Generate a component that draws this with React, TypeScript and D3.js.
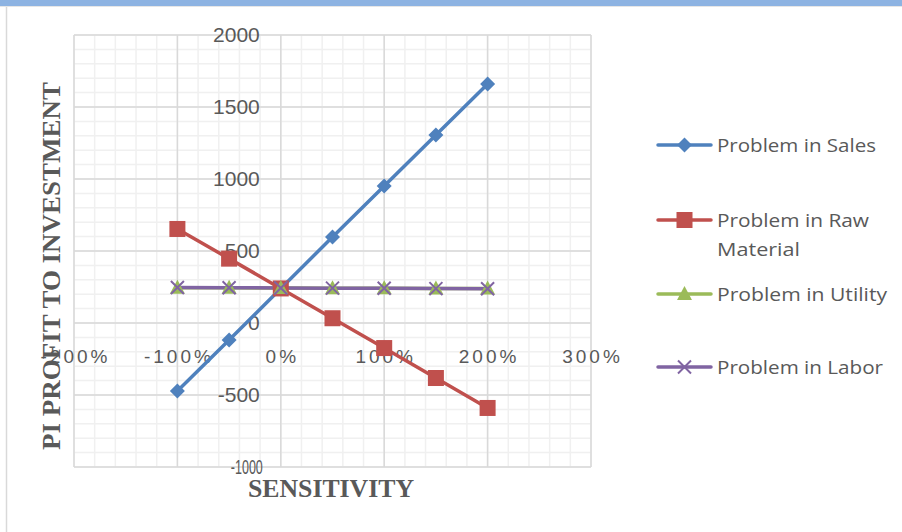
import React, { useEffect, useRef } from "react";
import * as d3 from "d3";

const sensitivity = [-1, -0.5, 0, 0.5, 1, 1.5, 2];
const salesValues = [-472, -118, 240, 597, 951, 1306, 1660];
const rawMaterialValues = [653, 447, 240, 33, -174, -382, -590];
const utilityValues = [245, 244, 243, 242, 241, 240, 239];
const laborValues = [246, 245, 243, 242, 241, 239, 238];
const seriesNames = ["Problem in Sales", "Problem in Raw Material", "Problem in Utility", "Problem in Labor"];
const xTicks = [-2, -1, 0, 1, 2, 3];
const yTicks = [-1000, -500, 0, 500, 1000, 1500, 2000];

const W = 902;
const H = 532;

export default function App() {
  const ref = useRef<SVGSVGElement>(null);

  useEffect(() => {
    const svg = d3.select(ref.current!);
    svg.selectAll("*").remove();

    const x = d3.scaleLinear().domain([-2, 3]).range([74, 591]);
    const y = d3.scaleLinear().domain([-1000, 2000]).range([467, 35]);
    const labelColor = "#595959";

    // frame
    svg.append("rect").attr("x", 0).attr("y", 0).attr("width", W).attr("height", H).attr("fill", "#fff");
    svg.append("rect").attr("x", 0).attr("y", 0).attr("width", W).attr("height", 6).attr("fill", "#8DB3E2");
    svg.append("line").attr("x1", 0).attr("x2", W).attr("y1", 6.5).attr("y2", 6.5).attr("stroke", "#E6E6E6");
    svg.append("line").attr("x1", 6.5).attr("x2", 6.5).attr("y1", 7).attr("y2", H).attr("stroke", "#D9D9D9").attr("stroke-width", 1.5);

    const g = svg.append("g");
    // minor grid
    const xMinor = d3.range(-2, 3.0001, 0.2);
    const yMinor = d3.range(-1000, 2000.1, 100);
    g.selectAll(".xm").data(xMinor).enter().append("line")
      .attr("x1", d => x(d)).attr("x2", d => x(d)).attr("y1", y(2000)).attr("y2", y(-1000))
      .attr("stroke", "#F0F0F0").attr("stroke-width", 1.5);
    g.selectAll(".ym").data(yMinor).enter().append("line")
      .attr("y1", d => y(d)).attr("y2", d => y(d)).attr("x1", x(-2)).attr("x2", x(3))
      .attr("stroke", "#F0F0F0").attr("stroke-width", 1.5);
    // major grid
    g.selectAll(".xM").data(xTicks).enter().append("line")
      .attr("x1", d => x(d)).attr("x2", d => x(d)).attr("y1", y(2000)).attr("y2", y(-1000))
      .attr("stroke", "#D9D9D9").attr("stroke-width", 1.5);
    g.selectAll(".yM").data(yTicks).enter().append("line")
      .attr("y1", d => y(d)).attr("y2", d => y(d)).attr("x1", x(-2)).attr("x2", x(3))
      .attr("stroke", "#D9D9D9").attr("stroke-width", 1.5);

    // y tick labels
    yTicks.forEach(d => {
      const t = g.append("text")
        .attr("x", x(0) - 21).attr("y", y(d)).attr("dy", "0.35em")
        .attr("text-anchor", "end").attr("fill", labelColor)
        .attr("font-family", "Liberation Sans, Arial, sans-serif").attr("font-size", 21)
        .text(String(d));
      if (d === -1000) {
        t.attr("x", x(0) - 18).attr("font-size", 20).attr("textLength", 32).attr("lengthAdjust", "spacingAndGlyphs");
      }
    });

    // axis titles
    svg.append("text")
      .attr("transform", `translate(60,${(82 + 450) / 2}) rotate(-90)`)
      .attr("text-anchor", "middle").attr("fill", labelColor)
      .attr("font-family", "Liberation Serif, Times New Roman, serif").attr("font-weight", "bold")
      .attr("font-size", 26).attr("textLength", 368).attr("lengthAdjust", "spacingAndGlyphs")
      .text("PI PROFIT TO INVESTMENT");
    svg.append("text")
      .attr("x", 331).attr("y", 497).attr("text-anchor", "middle").attr("fill", labelColor)
      .attr("font-family", "Liberation Serif, Times New Roman, serif").attr("font-weight", "bold")
      .attr("font-size", 25).attr("textLength", 166).attr("lengthAdjust", "spacingAndGlyphs")
      .text("SENSITIVITY");

    // x tick labels
    g.selectAll(".xl").data(xTicks).enter().append("text")
      .attr("x", d => x(d) + 1.5).attr("y", 356).attr("dy", "0.35em")
      .attr("text-anchor", "middle").attr("fill", labelColor)
      .attr("font-family", "Liberation Sans, Arial, sans-serif").attr("font-size", 19)
      .attr("letter-spacing", 3)
      .text(d => d3.format(".0%")(d).replace("\u2212", "-"));

    const colors = ["#4F81BD", "#C0504D", "#9BBB59", "#8064A2"];
    const allSeries = [salesValues, rawMaterialValues, utilityValues, laborValues];
    const line = d3.line<number>().x((_, i) => x(sensitivity[i])).y(d => y(d));

    const drawMarker = (sel: any, k: number, cx: number, cy: number) => {
      const c = colors[k];
      if (k === 0) {
        sel.append("path").attr("d", `M${cx},${cy - 7.5}L${cx + 7.5},${cy}L${cx},${cy + 7.5}L${cx - 7.5},${cy}Z`).attr("fill", c);
      } else if (k === 1) {
        sel.append("rect").attr("x", cx - 8).attr("y", cy - 8).attr("width", 16).attr("height", 16).attr("fill", c);
      } else if (k === 2) {
        sel.append("path").attr("d", `M${cx},${cy - 8}L${cx + 7.5},${cy + 6}L${cx - 7.5},${cy + 6}Z`).attr("fill", c);
      } else {
        sel.append("path").attr("d", `M${cx - 6.5},${cy - 6.5}L${cx + 6.5},${cy + 6.5}M${cx - 6.5},${cy + 6.5}L${cx + 6.5},${cy - 6.5}`)
          .attr("stroke", c).attr("stroke-width", 2).attr("fill", "none");
      }
    };

    allSeries.forEach((vals, k) => {
      g.append("path").datum(vals).attr("d", line as any).attr("fill", "none")
        .attr("stroke", colors[k]).attr("stroke-width", 3.5).attr("stroke-linejoin", "round").attr("stroke-linecap", "round");
    });
    allSeries.forEach((vals, k) => {
      vals.forEach((v, i) => drawMarker(g, k, x(sensitivity[i]), y(v)));
    });

    // legend
    const legendRows = [
      { k: 0, y: 145, lines: ["Problem in Sales"], w: [159] },
      { k: 1, y: 220, lines: ["Problem in Raw", "Material"], w: [152, 83] },
      { k: 2, y: 294, lines: ["Problem in Utility"], w: [170] },
      { k: 3, y: 367, lines: ["Problem in Labor"], w: [166] },
    ];
    const lg = svg.append("g");
    legendRows.forEach(r => {
      lg.append("line").attr("x1", 658).attr("x2", 711).attr("y1", r.y).attr("y2", r.y)
        .attr("stroke", colors[r.k]).attr("stroke-width", 3.5).attr("stroke-linecap", "round");
      drawMarker(lg, r.k, 684.5, r.y);
      r.lines.forEach((t, j) => {
        lg.append("text").attr("x", 717).attr("y", r.y + j * 29).attr("dy", "0.35em")
          .attr("fill", labelColor).attr("font-family", "Open Sans, Liberation Sans, sans-serif").attr("font-size", 19)
          .attr("textLength", r.w[j]).attr("lengthAdjust", "spacingAndGlyphs")
          .text(t);
      });
    });
  }, []);

  return (
    <svg ref={ref} width={W} height={H} style={{ position: "absolute", left: 0, top: 0 }} />
  );
}
